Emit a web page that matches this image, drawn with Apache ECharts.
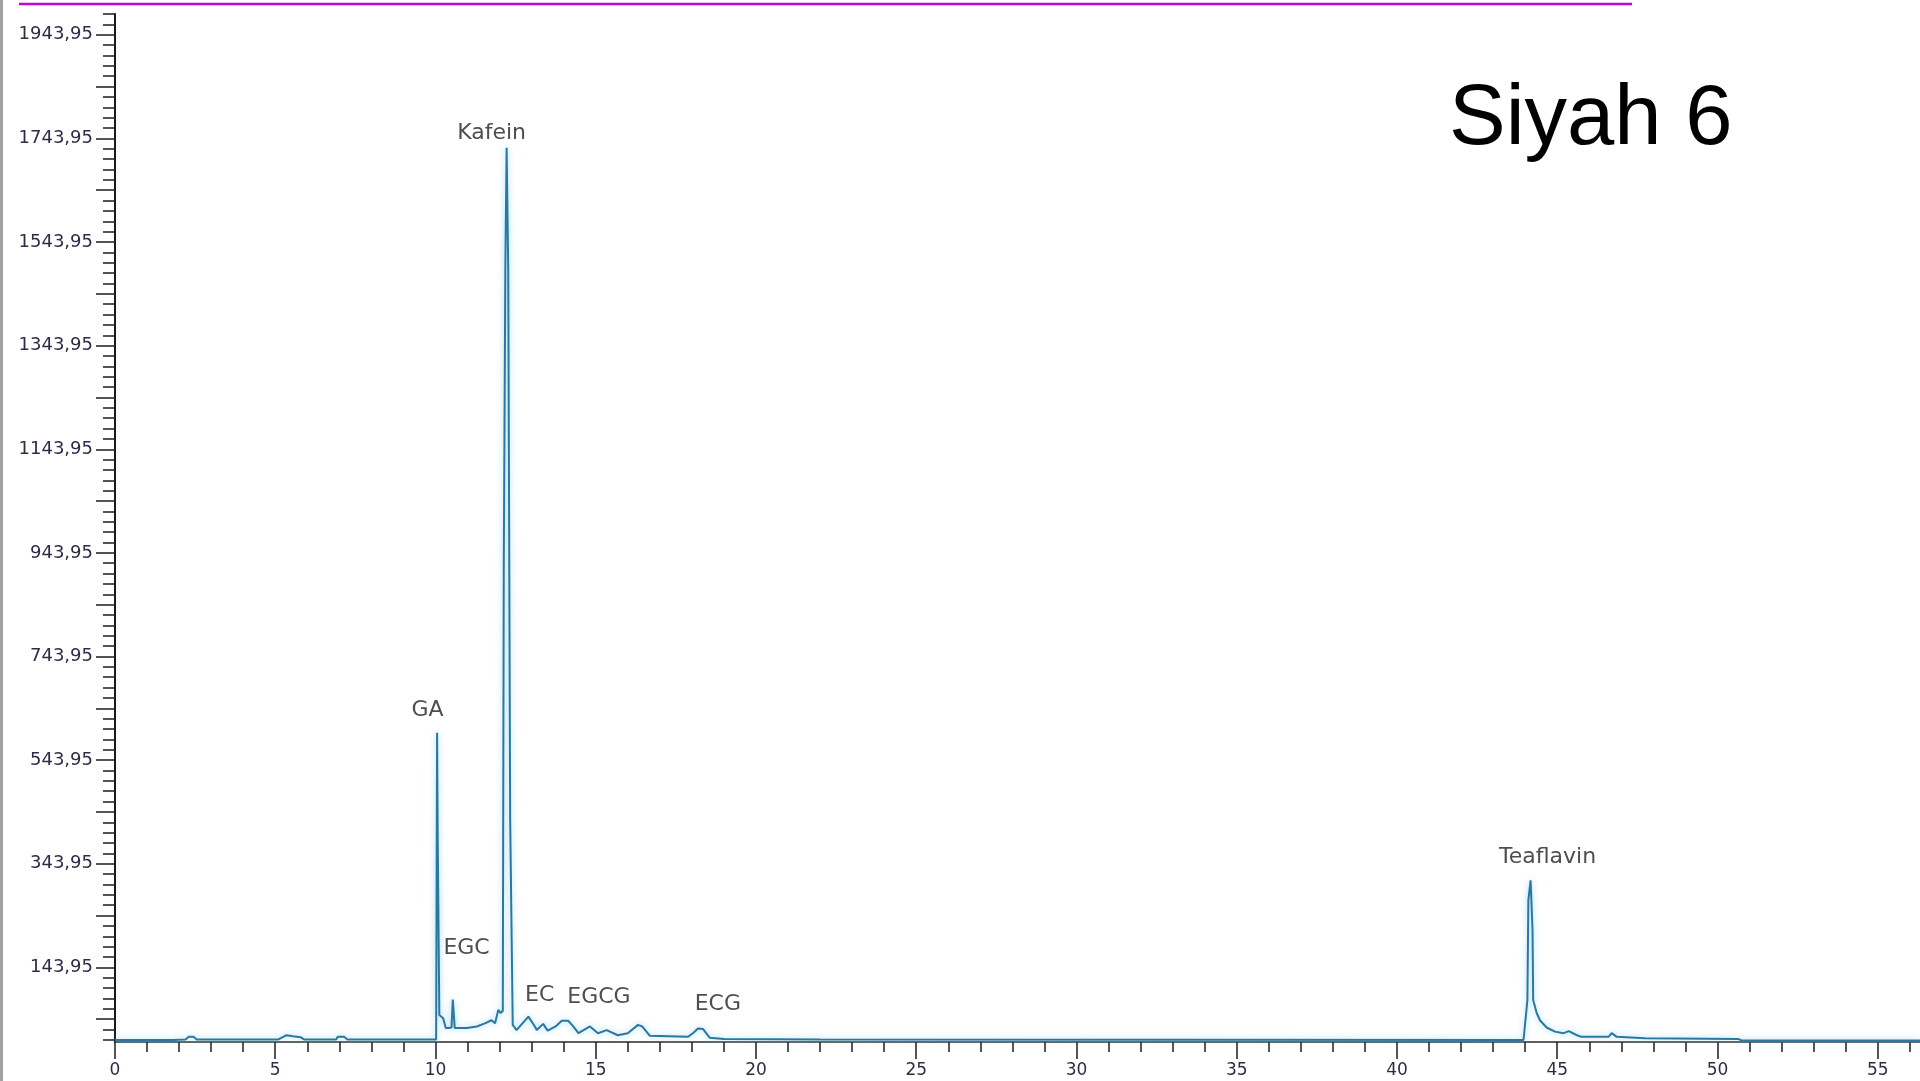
<!DOCTYPE html>
<html>
<head>
<meta charset="utf-8">
<title>Siyah 6</title>
<script src="https://cdn.jsdelivr.net/npm/echarts@6/dist/echarts.min.js"></script>
<style>
  html, body { margin: 0; padding: 0; background: #ffffff; }
  #chart { width: 1920px; height: 1081px; }
</style>
</head>
<body>
<div id="chart"></div>
<script>
// Retention time (min) and detector signal of the HPLC run
const retentionTime = [
  0, 1.8, 2.2, 2.3, 2.45, 2.55, 5.1, 5.25, 5.35, 5.55, 5.8, 5.9, 6.9, 6.95, 7.15, 7.25, 10.02,
  10.05, 10.07, 10.10, 10.12, 10.24, 10.32, 10.40, 10.50, 10.54, 10.57, 10.60, 10.66, 10.97, 11.29, 11.54, 11.75, 11.86, 11.96, 12.03, 12.10,
  12.13, 12.18, 12.22, 12.27, 12.33, 12.38, 12.41, 12.53, 12.63, 12.90, 13.10, 13.16, 13.36, 13.50, 13.75, 13.94, 14.14, 14.30,
  14.46, 14.82, 15.07, 15.34, 15.69, 16.00, 16.32, 16.45, 16.69, 17.88, 18.05, 18.19, 18.35, 18.56, 19.0, 22.0,
  43.95, 43.99, 44.07, 44.10, 44.17, 44.23, 44.25, 44.36, 44.46, 44.67, 44.93, 45.20, 45.36, 45.60, 45.75, 46.60, 46.70, 46.86, 47.74, 50.64, 50.75, 56.32
];
const signal = [
  4, 4, 5, 10, 10, 5, 5, 10, 13, 11, 9, 5, 5, 10, 10, 5, 5,
  597, 389, 389, 52, 46, 27, 27, 28, 82, 82, 27, 24, 27, 30, 36, 42, 36, 62, 56, 60,
  912, 1500, 1726, 1490, 432, 432, 33, 23, 30, 49, 30, 23, 35, 22, 30, 41, 41, 30,
  17, 30, 17, 23, 13, 17, 33, 30, 12, 10, 18, 26, 25, 8, 6, 5,
  4, 6, 81, 274, 312, 216, 81, 56, 42, 28, 20, 17, 21, 13.5, 10, 10, 17, 10, 7, 6, 3, 3
];

// Peak annotations: compound name and where its caption sits (time, signal)
const peakNames = ['GA', 'EGC', 'Kafein', 'EC', 'EGCG', 'ECG', 'Teaflavin'];
const peakLabelTime = [9.75, 10.97, 11.75, 13.25, 15.10, 18.81, 44.70];
const peakLabelLevel = [641, 181, 1754, 91, 86, 73, 356];

// Axis ticks
const xLabelTicks = [0, 5, 10, 15, 20, 25, 30, 35, 40, 45, 50, 55];
const yLabelTicks = [143.95, 343.95, 543.95, 743.95, 943.95, 1143.95, 1343.95, 1543.95, 1743.95, 1943.95];
const yAxisMin = 0, yAxisMax = 1983.95;
const xAxisMin = 0, xAxisMax = 56.32;

// tick positions: one per minute, one per 20 signal units, longer every 100
const xMinorTicks = [];
for (let m = 0; m <= 56; m++) xMinorTicks.push(m);
const yMinorTicks = [];
for (let k = 0; k < 100; k++) { const v = 3.95 + 20 * k; if (v <= yAxisMax + 1e-6) yMinorTicks.push(+v.toFixed(2)); }
const yMajorTicks = [];
for (let k = 0; k < 20; k++) { const v = 43.95 + 100 * k; if (v <= yAxisMax + 1e-6) yMajorTicks.push(+v.toFixed(2)); }

const axisTextColor = '#2d2d48';
const tickColor = '#1e1e1e';

const chart = echarts.init(document.getElementById('chart'), null, { renderer: 'canvas' });

chart.setOption({
  animation: false,
  backgroundColor: '#ffffff',
  title: {
    text: 'Siyah 6',
    left: 1444,
    top: 73,
    padding: 5,
    textStyle: { fontFamily: 'Liberation Sans', fontSize: 85, fontWeight: 'normal', color: '#000000' }
  },
  graphic: [
    { type: 'rect', left: 0, top: 0, shape: { width: 3, height: 1081 }, style: { fill: '#a2a2a2' }, silent: true },
    { type: 'line', shape: { x1: 19, y1: 4, x2: 1632, y2: 4 }, style: { stroke: '#c400e0', lineWidth: 2.5 }, silent: true }
  ],
  grid: { left: 115, right: 0, top: 14, bottom: 39, containLabel: false },
  xAxis: [
    {
      type: 'value', min: xAxisMin, max: xAxisMax,
      axisLine: { show: true, lineStyle: { color: '#2a2a2a', width: 1.5 } },
      axisTick: { show: true, customValues: xLabelTicks, length: 17, lineStyle: { color: tickColor, width: 1.5 } },
      axisLabel: {
        show: true, customValues: xLabelTicks, margin: 20,
        fontFamily: 'DejaVu Sans', fontSize: 17, color: axisTextColor
      },
      splitLine: { show: false }
    },
    {
      type: 'value', min: xAxisMin, max: xAxisMax, position: 'bottom',
      axisLine: { show: false },
      axisTick: { show: true, customValues: xMinorTicks, length: 10, lineStyle: { color: tickColor, width: 1.5 } },
      axisLabel: { show: false },
      splitLine: { show: false }
    }
  ],
  yAxis: [
    {
      type: 'value', min: yAxisMin, max: yAxisMax, position: 'left',
      axisLine: { show: true, lineStyle: { color: '#1a1a1a', width: 2 } },
      axisTick: { show: true, customValues: yMajorTicks, length: 19, lineStyle: { color: tickColor, width: 1.5 } },
      axisLabel: {
        show: true, customValues: yLabelTicks, margin: 22,
        fontFamily: 'DejaVu Sans', fontSize: 18, color: axisTextColor,
        formatter: v => v.toFixed(2).replace('.', ',')
      },
      splitLine: { show: false }
    },
    {
      type: 'value', min: yAxisMin, max: yAxisMax, position: 'left',
      axisLine: { show: false },
      axisTick: { show: true, customValues: yMinorTicks, length: 12, lineStyle: { color: tickColor, width: 1.5 } },
      axisLabel: { show: false },
      splitLine: { show: false }
    }
  ],
  series: [
    {
      name: 'Siyah 6',
      type: 'line',
      xAxisIndex: 0,
      yAxisIndex: 0,
      data: retentionTime.map((t, i) => [t, signal[i]]),
      showSymbol: false,
      symbol: 'none',
      smooth: false,
      lineStyle: {
        color: '#2a78a0',
        width: 2,
        shadowColor: 'rgba(110, 200, 240, 0.7)',
        shadowBlur: 6
      },
      z: 3
    },
    {
      name: 'peaks',
      type: 'scatter',
      xAxisIndex: 0,
      yAxisIndex: 0,
      symbolSize: 0,
      data: peakNames.map((n, i) => ({ name: n, value: [peakLabelTime[i], peakLabelLevel[i]] })),
      label: {
        show: true,
        position: 'inside',
        formatter: p => p.name,
        fontFamily: 'DejaVu Sans',
        fontSize: 22,
        color: '#222222'
      },
      z: 4
    }
  ]
});
</script>
</body>
</html>
